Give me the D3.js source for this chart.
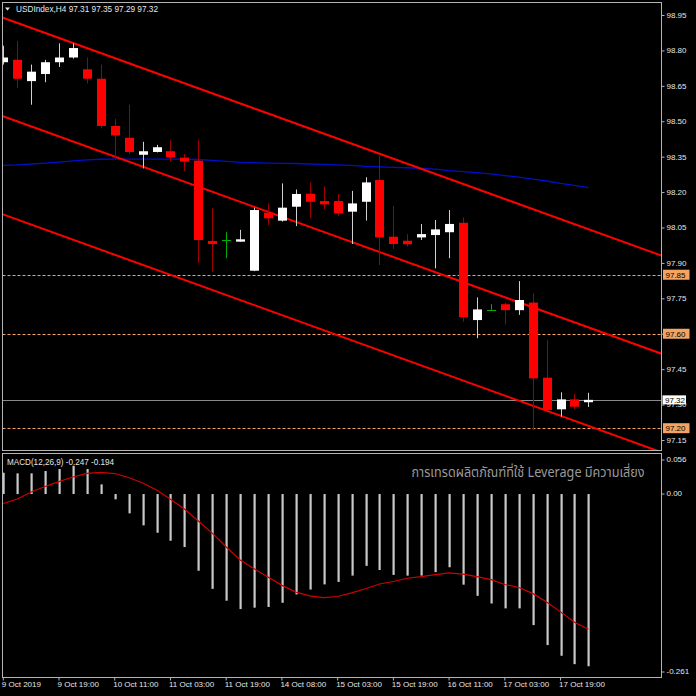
<!DOCTYPE html>
<html><head><meta charset="utf-8">
<script src="https://cdn.jsdelivr.net/npm/d3@7/dist/d3.min.js"></script>
<style>html,body{margin:0;padding:0;background:#000;} svg{display:block;}</style>
</head><body>
<script>
// ---------- DATA ----------
const symbolTitle = "USDIndex,H4";
const headerValues = "97.31 97.35 97.29 97.32";
const macdTitle = "MACD(12,26,9) -0.247 -0.194";
const disclaimer = "การเทรดผลิตภัณฑ์ที่ใช้ Leverage มีความเสี่ยง";

const opens  = [98.75,98.76,98.67,98.70,98.75,98.77,98.72,98.68,98.48,98.43,98.358,98.37,98.373,98.346,98.333,97.993,97.995,97.99,97.867,98.113,98.079,98.138,98.193,98.162,98.162,98.117,98.159,98.251,98.011,97.994,98.008,98.018,98.03,98.07,97.658,97.70,97.725,97.70,97.732,97.414,97.28,97.322,97.31];
const highs  = [98.82,98.84,98.74,98.76,98.83,98.83,98.77,98.74,98.51,98.57,98.413,98.40,98.42,98.361,98.42,98.131,98.03,98.04,98.134,98.152,98.237,98.211,98.241,98.223,98.192,98.205,98.263,98.353,98.141,98.022,98.065,98.082,98.124,98.093,97.754,97.725,97.732,97.823,97.771,97.573,97.352,97.345,97.35];
const lows   = [98.74,98.64,98.57,98.665,98.73,98.765,98.66,98.47,98.34,98.36,98.30,98.368,98.33,98.289,97.90,97.863,97.92,97.99,97.865,98.06,98.075,98.056,98.089,98.128,98.10,97.98,98.079,97.891,97.959,97.97,97.997,97.877,97.92,97.651,97.581,97.70,97.64,97.68,97.192,97.274,97.249,97.28,97.29];
const closes = [98.77,98.68,98.71,98.75,98.77,98.81,98.68,98.48,98.44,98.37,98.373,98.39,98.347,98.329,97.997,97.98,97.995,98.00,98.124,98.089,98.134,98.192,98.159,98.148,98.11,98.152,98.241,98.008,97.98,97.979,98.022,98.042,98.065,97.67,97.703,97.70,97.70,97.743,97.411,97.277,97.322,97.291,97.32];

const maValues = [98.313,98.315,98.319,98.323,98.327,98.332,98.336,98.339,98.340,98.340,98.340,98.340,98.340,98.339,98.338,98.334,98.330,98.326,98.325,98.323,98.322,98.321,98.319,98.317,98.315,98.313,98.309,98.307,98.305,98.303,98.300,98.297,98.291,98.287,98.282,98.277,98.270,98.263,98.255,98.247,98.237,98.228,98.219];

const macdHist = [0.0306,0.0297,0.0297,0.033,0.0359,0.0406,0.0359,0.0139,-0.0076,-0.0277,-0.0449,-0.0555,-0.067,-0.076,-0.110,-0.136,-0.153,-0.165,-0.163,-0.162,-0.156,-0.144,-0.137,-0.1296,-0.126,-0.117,-0.103,-0.109,-0.116,-0.117,-0.117,-0.112,-0.105,-0.130,-0.146,-0.157,-0.164,-0.164,-0.188,-0.2166,-0.232,-0.244,-0.247];
const macdSignal = [-0.0136,-0.0072,0.0029,0.0108,0.0179,0.0244,0.0297,0.0311,0.0294,0.0237,0.0158,0.0057,-0.0076,-0.0215,-0.0387,-0.056,-0.076,-0.0947,-0.107,-0.119,-0.131,-0.1406,-0.146,-0.1485,-0.147,-0.1418,-0.1359,-0.129,-0.1255,-0.1208,-0.1184,-0.1155,-0.113,-0.1148,-0.1184,-0.1227,-0.1298,-0.134,-0.1425,-0.155,-0.169,-0.184,-0.194];

// channel lines: [barIndex, price] anchor pairs
const channelUpper  = [[0,98.938],[42,98.043]];
const channelMiddle = [[0,98.521],[42,97.627]];
const channelLower  = [[0,98.105],[42,97.210]];

const priceTicks = [98.95,98.80,98.65,98.50,98.35,98.20,98.05,97.90,97.75,97.60,97.45,97.30,97.15];
const levelLines = [97.85,97.60,97.20];
const currentPrice = 97.32;
const macdTicks = [0.056,0.00,-0.261];
const macdTickLabels = ["0.056","0.00","-0.261"];
const timeTickBars = [0,4,8,12,16,20,24,28,32,36,40];
const timeTickLabels = ["9 Oct 2019","9 Oct 19:00","10 Oct 11:00","11 Oct 03:00","11 Oct 19:00","14 Oct 08:00","15 Oct 03:00","15 Oct 19:00","16 Oct 11:00","17 Oct 03:00","17 Oct 19:00"];

// ---------- LAYOUT ----------
const W = 696, H = 696;
const L = 2.5, R = 661.5, T = 2.5, MB = 450.5, MT = 453.5, B = 677.5;
const FONT = "'Liberation Sans', Arial, sans-serif";

const svg = d3.select("body").append("svg").attr("width", W).attr("height", H)
  .style("background", "#000");

const x = d3.scaleLinear().domain([0, 42]).range([3.3, 588.4]);
const y = d3.scaleLinear().domain([97.15, 98.95]).range([440, 15]);
const ym = d3.scaleLinear().domain([-0.261, 0.056]).range([676, 455]);

const defs = svg.append("defs");
defs.append("clipPath").attr("id", "clipMain").append("rect")
  .attr("x", L).attr("y", T).attr("width", R - L).attr("height", MB - T);
defs.append("clipPath").attr("id", "clipMacd").append("rect")
  .attr("x", L).attr("y", MT).attr("width", R - L).attr("height", B - MT);

const gMain = svg.append("g").attr("clip-path", "url(#clipMain)");
const gMacd = svg.append("g").attr("clip-path", "url(#clipMacd)");

// level dashed lines
gMain.selectAll("line.level").data(levelLines).join("line")
  .attr("x1", L).attr("x2", R)
  .attr("y1", d => Math.round(y(d)) + 0.5).attr("y2", d => Math.round(y(d)) + 0.5)
  .attr("stroke", "#f4a460").attr("stroke-width", 1).attr("stroke-dasharray", "3,2");

// current price line
gMain.append("line").attr("x1", L).attr("x2", R)
  .attr("y1", Math.round(y(currentPrice)) + 0.5).attr("y2", Math.round(y(currentPrice)) + 0.5)
  .attr("stroke", "#8a8a8a").attr("stroke-width", 1);

// moving average
gMain.append("path").datum(maValues)
  .attr("d", d3.line().x((d, i) => x(i)).y(d => y(d)))
  .attr("fill", "none").attr("stroke", "#0010c8").attr("stroke-width", 1.3);

// channel lines (extended across the panel)
function extend(pts) {
  const [[i0, p0], [i1, p1]] = pts;
  const s = (p1 - p0) / (i1 - i0);
  return [[-2, p0 + s * (-2 - i0)], [50, p0 + s * (50 - i0)]];
}
[channelUpper, channelMiddle, channelLower].forEach(ch => {
  gMain.append("path").datum(extend(ch))
    .attr("d", d3.line().x(d => x(d[0])).y(d => y(d[1])))
    .attr("fill", "none").attr("stroke", "#ff0000").attr("stroke-width", 2);
});

// candles
const candles = opens.map((o, i) => ({ i, o, h: highs[i], l: lows[i], c: closes[i] }));
const cg = gMain.selectAll("g.candle").data(candles).join("g");
const bw = 9;
cg.append("line")
  .attr("x1", d => Math.round(x(d.i)) + 0.5).attr("x2", d => Math.round(x(d.i)) + 0.5)
  .attr("y1", d => y(d.h)).attr("y2", d => y(d.l))
  .attr("stroke", d => d.c > d.o ? "#d0d0d0" : (d.c < d.o ? "#a00000" : "#00b000"))
  .attr("stroke-width", 1);
cg.filter(d => d.c !== d.o).append("rect")
  .attr("x", d => Math.round(x(d.i)) + 0.5 - bw / 2)
  .attr("width", bw)
  .attr("y", d => y(Math.max(d.o, d.c)))
  .attr("height", d => Math.max(1.5, Math.abs(y(d.o) - y(d.c))))
  .attr("fill", d => d.c > d.o ? "#ffffff" : "#ff0000");
cg.filter(d => d.c === d.o).append("line")
  .attr("x1", d => Math.round(x(d.i)) + 0.5 - bw / 2).attr("x2", d => Math.round(x(d.i)) + 0.5 + bw / 2)
  .attr("y1", d => Math.round(y(d.o)) + 0.5).attr("y2", d => Math.round(y(d.o)) + 0.5)
  .attr("stroke", "#00b000").attr("stroke-width", 1);

// MACD histogram
gMacd.selectAll("rect.hist").data(macdHist).join("rect")
  .attr("x", (d, i) => Math.round(x(i)) - 0.5)
  .attr("width", 2.2)
  .attr("y", d => Math.min(ym(0), ym(d)))
  .attr("height", d => Math.abs(ym(d) - ym(0)))
  .attr("fill", "#c8c8c8");

// MACD signal
gMacd.append("path").datum(macdSignal)
  .attr("d", d3.line().x((d, i) => x(i)).y(d => ym(d)))
  .attr("fill", "none").attr("stroke", "#d00000").attr("stroke-width", 1.2);

// disclaimer text
gMacd.append("text").attr("x", 411.5).attr("y", 477)
  .attr("font-family", "'Noto Sans Thai','Noto Sans Thai UI','Loma','Garuda','Tahoma','DejaVu Sans',sans-serif")
  .attr("font-size", 13.5).attr("fill", "#9a9a9a")
  .attr("textLength", 233).attr("lengthAdjust", "spacingAndGlyphs")
  .text(disclaimer);

// frames
const frame = svg.append("g").attr("fill", "none").attr("stroke", "#b4b4b4").attr("stroke-width", 1);
frame.append("rect").attr("x", L).attr("y", T).attr("width", R - L).attr("height", MB - T);
frame.append("rect").attr("x", L).attr("y", MT).attr("width", R - L).attr("height", B - MT);

// price axis
const yAxis = svg.append("g").attr("transform", `translate(${R},0)`)
  .call(d3.axisRight(y).tickValues(priceTicks).tickFormat(d3.format(".2f")).tickSize(3).tickPadding(2));
yAxis.select(".domain").remove();
yAxis.selectAll("line").attr("stroke", "#b4b4b4");
yAxis.selectAll("text").attr("fill", "#e6e6e6").attr("font-family", FONT).attr("font-size", 8)
  .attr("dy", "0.3em");

// level label boxes
const lb = svg.append("g");
levelLines.forEach(p => {
  lb.append("rect").attr("x", 663).attr("y", y(p) - 5).attr("width", 26.5).attr("height", 10)
    .attr("fill", "#f4a460");
  lb.append("text").attr("x", 665.5).attr("y", y(p) + 3).attr("fill", "#000")
    .attr("font-family", FONT).attr("font-size", 8).text(d3.format(".2f")(p));
});
lb.append("rect").attr("x", 662.5).attr("y", y(currentPrice) - 4.5).attr("width", 23.5).attr("height", 9)
  .attr("fill", "#ffffff");
lb.append("text").attr("x", 665).attr("y", y(currentPrice) + 3).attr("fill", "#000")
  .attr("font-family", FONT).attr("font-size", 8).text(d3.format(".2f")(currentPrice));

// MACD axis
const mAxis = svg.append("g").attr("transform", `translate(${R},0)`)
  .call(d3.axisRight(ym).tickValues(macdTicks).tickFormat((d, i) => macdTickLabels[i]).tickSize(3).tickPadding(2));
mAxis.select(".domain").remove();
mAxis.selectAll("line").attr("stroke", "#b4b4b4");
mAxis.selectAll(".tick").attr("transform", (d, i) => {
  const off = i === 0 ? 5 : (i === 2 ? -4 : 0);
  return `translate(0,${ym(d) + off})`;
});
mAxis.selectAll("text").attr("fill", "#e6e6e6").attr("font-family", FONT).attr("font-size", 8).attr("dy", "0.3em");

// time axis
const xAxis = svg.append("g").attr("transform", `translate(0,${B})`)
  .call(d3.axisBottom(x).tickValues(timeTickBars).tickFormat((d, i) => timeTickLabels[i]).tickSize(3).tickPadding(2));
xAxis.select(".domain").remove();
xAxis.selectAll("line").attr("stroke", "#b4b4b4").attr("transform", "translate(-0.5,0)");
xAxis.selectAll("text").attr("fill", "#e6e6e6").attr("font-family", FONT).attr("font-size", 8)
  .attr("text-anchor", "start").attr("dx", -2).attr("dy", "0.6em");

// header
svg.append("path").attr("d", "M5,7.5 L10,7.5 L7.5,10.5 Z").attr("fill", "#e6e6e6");
svg.append("text").attr("x", 16).attr("y", 11.5).attr("fill", "#e6e6e6")
  .attr("font-family", FONT).attr("font-size", 9)
  .attr("textLength", 142).attr("lengthAdjust", "spacingAndGlyphs")
  .text(symbolTitle + "  " + headerValues);
svg.append("text").attr("x", 7).attr("y", 465).attr("fill", "#e6e6e6")
  .attr("font-family", FONT).attr("font-size", 9)
  .attr("textLength", 107).attr("lengthAdjust", "spacingAndGlyphs")
  .text(macdTitle);
</script>
</body></html>
